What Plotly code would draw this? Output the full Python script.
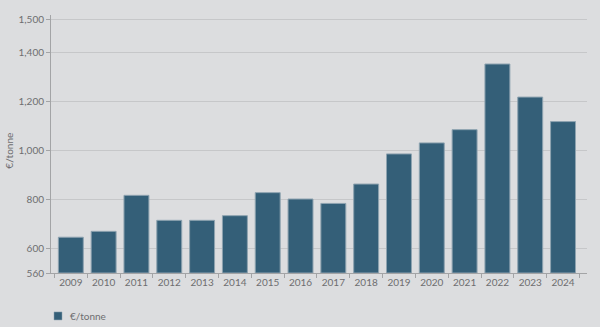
import plotly.graph_objects as go

# Annual average price, €/tonne
years = [str(y) for y in range(2009, 2025)]
price_eur_per_tonne = [644, 668, 815, 713, 713, 732, 826, 800, 782, 861,
                       984, 1029, 1083, 1351, 1216, 1116]

# Y axis: gridlines at the round values, end labels at the axis floor / top line
y_floor = 498
y_top_line = 1531
y_tick_vals = [y_floor, 600, 800, 1000, 1200, 1400, y_top_line]
y_tick_text = ["560", "600", "800", "1,000", "1,200", "1,400", "1,500"]

series_name = "€/tonne"

BG = "#dcdddf"
BAR = "#345f78"
BAR_EDGE = "#8ea3b0"
GRID = "#c6c7c9"
AXIS = "#a3a4a6"
TEXT = "#6e6e70"
FONT = "Lato, 'Open Sans', sans-serif"

fig = go.Figure(
    go.Bar(
        x=years,
        # bars start from the axis floor, so the heights are measured from it
        y=[v - y_floor for v in price_eur_per_tonne],
        base=y_floor,
        name=series_name,
        marker=dict(color=BAR, line=dict(color=BAR_EDGE, width=1)),
        showlegend=False,
    )
)

# compact legend key below the plot: small swatch + label
fig.add_shape(
    type="rect", xref="paper", yref="paper",
    x0=0.0056, x1=0.0205, y0=-0.182, y1=-0.151,
    fillcolor=BAR, line=dict(color=BAR_EDGE, width=0.5),
)
fig.add_annotation(
    xref="paper", yref="paper", x=0.031, y=-0.168,
    xanchor="left", yanchor="middle", showarrow=False,
    text=series_name, font=dict(family=FONT, size=10, color=TEXT),
)

# rotated y-axis title
fig.add_annotation(
    xref="paper", yref="paper", x=-0.078, y=0.475,
    xanchor="center", yanchor="middle", showarrow=False, textangle=-90,
    text=series_name, font=dict(family=FONT, size=10, color=TEXT),
)

fig.update_layout(
    width=600,
    height=327,
    paper_bgcolor=BG,
    plot_bgcolor=BG,
    margin=dict(l=51, r=13, t=15, b=54, autoexpand=False),
    bargap=0.24,
    font=dict(family=FONT, size=10, color=TEXT),
)

fig.update_xaxes(
    type="category",
    range=[-0.604, 15.73],
    automargin=False,
    tickangle=0,
    showgrid=False,
    showline=True,
    linecolor=AXIS,
    linewidth=1,
    ticks="outside",
    tickson="boundaries",
    ticklen=4,
    tickcolor=AXIS,
    tickfont=dict(size=10, color=TEXT),
    fixedrange=True,
)

fig.update_yaxes(
    range=[y_floor, 1551],
    automargin=False,
    tickvals=y_tick_vals,
    ticktext=y_tick_text,
    showgrid=True,
    gridcolor=GRID,
    gridwidth=1,
    zeroline=False,
    showline=True,
    linecolor=AXIS,
    linewidth=1,
    ticks="outside",
    ticklen=4,
    tickcolor=AXIS,
    tickfont=dict(size=10, color=TEXT),
    fixedrange=True,
)

fig.write_html("out.html", config={"displayModeBar": False})
